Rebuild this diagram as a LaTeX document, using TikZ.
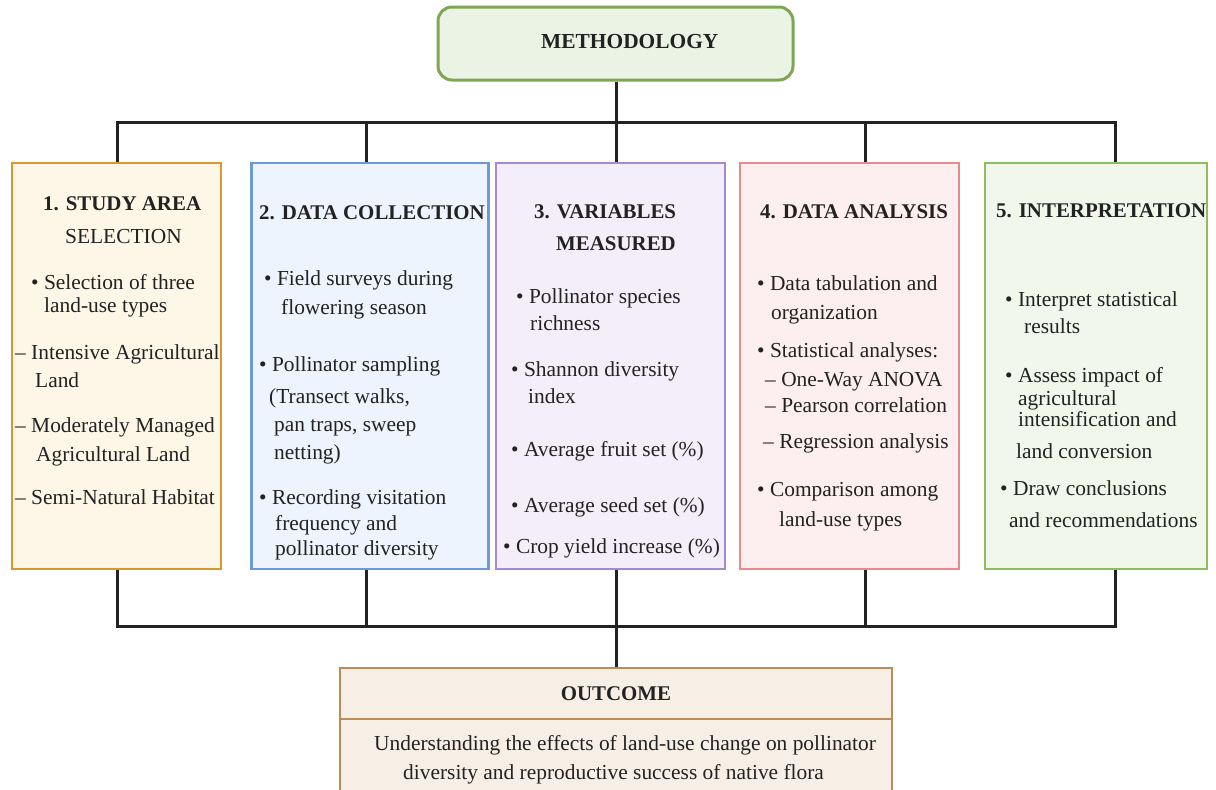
\documentclass[tikz,border=0pt]{standalone}
\usepackage{fontspec}
\setmainfont{Liberation Serif}
\definecolor{linec}{HTML}{222222}
\definecolor{textc}{HTML}{222222}
\definecolor{mB}{HTML}{7FA653}\definecolor{mF}{HTML}{EBF3E4}
\definecolor{aB}{HTML}{D9982E}\definecolor{aF}{HTML}{FEF6E7}
\definecolor{bB}{HTML}{6A9BD8}\definecolor{bF}{HTML}{EDF4FD}
\definecolor{cB}{HTML}{A68ACF}\definecolor{cF}{HTML}{F3EEFA}
\definecolor{dB}{HTML}{E8898A}\definecolor{dF}{HTML}{FDEEEF}
\definecolor{eB}{HTML}{8BBE5C}\definecolor{eF}{HTML}{F1F7EA}
\definecolor{oB}{HTML}{B98C5A}\definecolor{oF}{HTML}{F7EFE5}
\begin{document}
\begin{tikzpicture}[x=1pt,y=-1pt,
  conn/.style={line width=3pt,draw=linec},
  box/.style={draw,line width=2.5pt,inner sep=0pt,rectangle,minimum height=406pt},
  txt/.style={inner sep=0pt,anchor=base west,font=\fontsize{21.4}{24}\selectfont,text=textc},
  hdr/.style={txt,font=\fontsize{20.9}{24}\selectfont\bfseries},
  bighdr/.style={txt,font=\fontsize{21.4}{24}\selectfont\bfseries},
]
\useasboundingbox (0,0) rectangle (1216,790);
\clip (0,0) rectangle (1216,790);
% boxes
\node[draw=mB,fill=mF,line width=3pt,rounded corners=14pt,inner sep=0pt,minimum width=355pt,minimum height=73pt] (m) at (615.5,43.5) {};
\node[box,draw=aB,fill=aF,minimum width=209pt] (b1) at (116.5,366) {};
\node[box,draw=bB,fill=bF,minimum width=237pt] (b2) at (370,366) {};
\node[box,draw=cB,fill=cF,minimum width=229pt] (b3) at (610.5,366) {};
\node[box,draw=dB,fill=dF,minimum width=219pt] (b4) at (849.5,366) {};
\node[box,draw=eB,fill=eF,minimum width=222pt] (b5) at (1096,366) {};
\node[draw=oB,fill=oF,line width=2.5pt,inner sep=0pt,minimum width=552pt,minimum height=132pt] (out) at (616,734) {};
\coordinate (sepL) at (340,719);
\coordinate (sepR) at (892,719);
\draw[draw=oB,line width=2.5pt] (sepL) -- (sepR);
% bus coordinates
\coordinate (t1) at (117,122);\coordinate (t2) at (366,122);\coordinate (t3) at (616,122);
\coordinate (t4) at (865,122);\coordinate (t5) at (1115,122);
\coordinate (u1) at (117,626);\coordinate (u2) at (366,626);\coordinate (u3) at (616,626);
\coordinate (u4) at (865,626);\coordinate (u5) at (1115,626);
% connectors top
\draw[conn] (m.south -| t3) -- (t3);
\draw[conn] (t1 |- b1.north) -- (t1) -- (t5) -- (t5 |- b5.north);
\draw[conn] (t2) -- (t2 |- b2.north);
\draw[conn] (t3) -- (t3 |- b3.north);
\draw[conn] (t4) -- (t4 |- b4.north);
% connectors bottom
\draw[conn] (u1 |- b1.south) -- (u1) -- (u5) -- (u5 |- b5.south);
\draw[conn] (u2 |- b2.south) -- (u2);
\draw[conn] (u3 |- b3.south) -- (u3);
\draw[conn] (u4 |- b4.south) -- (u4);
\draw[conn] (u3) -- (u3 |- out.north);
% titles
\node[bighdr] (mt) at (541,48) {METHODOLOGY};
\node[hdr,anchor=base] (ot) at (616,700) {OUTCOME};
\node[txt] (o1) at (374,750) {Understanding the effects of land-use change on pollinator};
\node[txt] (o2) at (403,779) {diversity and reproductive success of native flora};
% box 1
\node[hdr] (a0) at (43,210) {1. STUDY AREA};
\node[txt] (a1) at (65,243) {SELECTION};
\node[txt] (a2) at (31,289) {• Selection of three};
\node[txt] (a3) at (44,312) {land-use types};
\node[txt] (a4) at (15,359) {– Intensive Agricultural};
\node[txt] (a5) at (35,387) {Land};
\node[txt] (a6) at (15,432) {– Moderately Managed};
\node[txt] (a7) at (36,461) {Agricultural Land};
\node[txt] (a8) at (15,504) {– Semi-Natural Habitat};
% box 2
\node[hdr] (p0) at (259,219) {2. DATA COLLECTION};
\node[txt] (p1) at (264,285) {• Field surveys during};
\node[txt] (p2) at (281,314) {flowering season};
\node[txt] (p3) at (259,371) {• Pollinator sampling};
\node[txt] (p4) at (269,403) {(Transect walks,};
\node[txt] (p5) at (274,431) {pan traps, sweep};
\node[txt] (p6) at (274,459) {netting)};
\node[txt] (p7) at (259,504) {• Recording visitation};
\node[txt] (p8) at (275,530) {frequency and};
\node[txt] (p9) at (275,555) {pollinator diversity};
% box 3
\node[hdr] (v0) at (534,218) {3. VARIABLES};
\node[hdr] (v1) at (556,250) {MEASURED};
\node[txt] (v2) at (516,303) {• Pollinator species};
\node[txt] (v3) at (530,330) {richness};
\node[txt] (v4) at (511,376) {• Shannon diversity};
\node[txt] (v5) at (528,403) {index};
\node[txt] (v6) at (511,456) {• Average fruit set (\%)};
\node[txt] (v7) at (511,512) {• Average seed set (\%)};
\node[txt] (v8) at (503,553) {• Crop yield increase (\%)};
% box 4
\node[hdr] (d0) at (760,218) {4. DATA ANALYSIS};
\node[txt] (d1) at (757,290) {• Data tabulation and};
\node[txt] (d2) at (771,319) {organization};
\node[txt] (d3) at (757,357) {• Statistical analyses:};
\node[txt] (d4) at (765,386) {– One-Way ANOVA};
\node[txt] (d5) at (765,412) {– Pearson correlation};
\node[txt] (d6) at (763,448) {– Regression analysis};
\node[txt] (d7) at (757,496) {• Comparison among};
\node[txt] (d8) at (779,526) {land-use types};
% box 5
\node[hdr] (e0) at (996,217) {5. INTERPRETATION};
\node[txt] (e1) at (1005,306) {• Interpret statistical};
\node[txt] (e2) at (1024,333) {results};
\node[txt] (e3) at (1005,382) {• Assess impact of};
\node[txt] (e4) at (1018,405) {agricultural};
\node[txt] (e5) at (1018,426) {intensification and};
\node[txt] (e6) at (1016,458) {land conversion};
\node[txt] (e7) at (1000,495) {• Draw conclusions};
\node[txt] (e8) at (1009,527) {and recommendations};
\end{tikzpicture}
\end{document}
